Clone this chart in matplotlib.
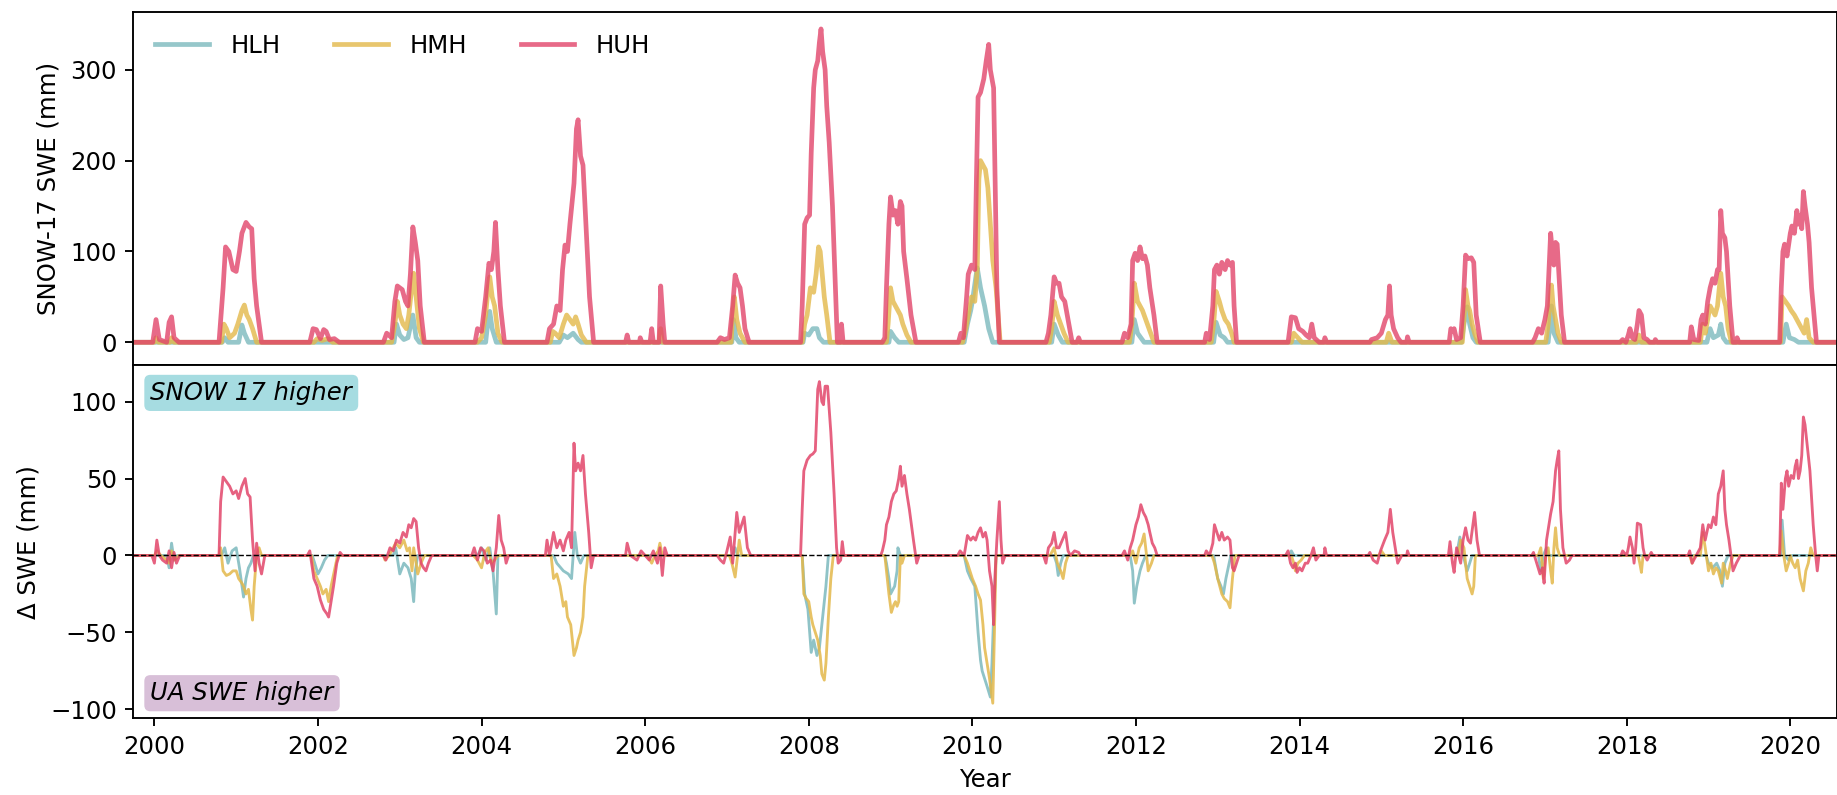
import numpy as np
import matplotlib
matplotlib.use("Agg")
import matplotlib.pyplot as plt

# SNOW-17 SWE (mm), (decimal year, value)
huh_top = [
    (1999.75, 0), (1999.98, 0), (2000.02, 25), (2000.06, 3), (2000.15, 0), (2000.18, 22), (2000.21, 28),
    (2000.24, 5), (2000.30, 0), (2000.79, 0), (2000.84, 60), (2000.87, 105), (2000.91, 100), (2000.96, 80),
    (2001.00, 78), (2001.04, 100), (2001.07, 120), (2001.12, 132), (2001.16, 127), (2001.19, 125),
    (2001.22, 70), (2001.25, 40), (2001.31, 0), (2001.90, 0), (2001.94, 15), (2001.98, 14), (2002.03, 4),
    (2002.07, 14), (2002.10, 12), (2002.14, 3), (2002.20, 4), (2002.26, 0), (2002.80, 0), (2002.84, 10),
    (2002.90, 5), (2002.94, 45), (2002.97, 62), (2003.03, 58), (2003.07, 45), (2003.10, 40), (2003.13, 75),
    (2003.16, 127), (2003.19, 110), (2003.22, 90), (2003.25, 40), (2003.30, 0), (2003.92, 0), (2003.95, 15),
    (2004.00, 12), (2004.05, 50), (2004.09, 87), (2004.12, 80), (2004.15, 100), (2004.17, 132), (2004.20, 80),
    (2004.23, 40), (2004.28, 0), (2004.80, 0), (2004.83, 15), (2004.88, 20), (2004.92, 40), (2004.96, 35),
    (2004.99, 80), (2005.02, 107), (2005.05, 100), (2005.08, 130), (2005.13, 175), (2005.16, 235),
    (2005.18, 245), (2005.21, 205), (2005.24, 195), (2005.27, 140), (2005.32, 50), (2005.37, 0),
    (2005.76, 0), (2005.78, 8), (2005.80, 0), (2005.93, 0), (2005.94, 5), (2005.96, 0), (2006.06, 0),
    (2006.08, 15), (2006.10, 0), (2006.17, 0), (2006.19, 62), (2006.22, 20), (2006.24, 0), (2006.88, 0),
    (2006.92, 5), (2006.97, 3), (2007.03, 5), (2007.07, 40), (2007.10, 74), (2007.13, 65), (2007.16, 60),
    (2007.19, 40), (2007.22, 15), (2007.27, 0), (2007.90, 0), (2007.92, 40), (2007.95, 130), (2007.98, 137),
    (2008.01, 140), (2008.03, 208), (2008.06, 280), (2008.08, 300), (2008.11, 310), (2008.13, 330),
    (2008.15, 345), (2008.17, 320), (2008.20, 300), (2008.22, 260), (2008.25, 220), (2008.29, 150),
    (2008.33, 50), (2008.35, 0), (2008.39, 0), (2008.40, 20), (2008.42, 0), (2008.90, 0), (2008.93, 5),
    (2008.95, 60), (2008.98, 130), (2009.00, 160), (2009.03, 140), (2009.06, 145), (2009.09, 130),
    (2009.12, 155), (2009.14, 150), (2009.16, 100), (2009.20, 70), (2009.25, 30), (2009.31, 0),
    (2009.83, 0), (2009.86, 10), (2009.89, 5), (2009.93, 50), (2009.95, 75), (2009.99, 85), (2010.03, 80),
    (2010.05, 180), (2010.07, 270), (2010.10, 275), (2010.14, 290), (2010.17, 310), (2010.20, 328),
    (2010.22, 300), (2010.24, 290), (2010.26, 280), (2010.28, 170), (2010.30, 60), (2010.33, 0),
    (2010.90, 0), (2010.93, 10), (2010.96, 30), (2011.00, 72), (2011.03, 65), (2011.06, 65), (2011.09, 50),
    (2011.13, 45), (2011.16, 30), (2011.22, 0), (2011.28, 0), (2011.30, 5), (2011.32, 0), (2011.83, 0),
    (2011.86, 10), (2011.90, 5), (2011.94, 20), (2011.96, 90), (2011.99, 98), (2012.02, 90), (2012.05, 105),
    (2012.08, 92), (2012.11, 95), (2012.14, 85), (2012.17, 60), (2012.22, 30), (2012.26, 0), (2012.84, 0),
    (2012.86, 10), (2012.90, 3), (2012.94, 40), (2012.96, 80), (2012.99, 85), (2013.02, 75), (2013.05, 88),
    (2013.09, 80), (2013.12, 90), (2013.15, 85), (2013.18, 88), (2013.20, 40), (2013.23, 0), (2013.86, 0),
    (2013.90, 28), (2013.95, 27), (2013.99, 15), (2014.04, 12), (2014.08, 8), (2014.12, 5), (2014.15, 20),
    (2014.18, 5), (2014.24, 0), (2014.30, 0), (2014.31, 5), (2014.33, 0), (2014.86, 0), (2014.88, 3),
    (2014.95, 5), (2015.00, 10), (2015.05, 25), (2015.08, 30), (2015.10, 62), (2015.12, 30), (2015.15, 15),
    (2015.20, 5), (2015.24, 0), (2015.31, 0), (2015.32, 6), (2015.34, 0), (2015.83, 0), (2015.85, 15),
    (2015.87, 12), (2015.89, 15), (2015.92, 3), (2015.97, 5), (2016.00, 40), (2016.03, 96), (2016.06, 92),
    (2016.10, 93), (2016.13, 88), (2016.16, 30), (2016.21, 0), (2016.85, 0), (2016.88, 5), (2016.92, 15),
    (2016.96, 10), (2017.00, 25), (2017.03, 40), (2017.06, 100), (2017.07, 120), (2017.09, 100),
    (2017.11, 85), (2017.13, 110), (2017.15, 108), (2017.18, 60), (2017.20, 30), (2017.24, 0), (2017.92, 0),
    (2017.95, 3), (2017.99, 0), (2018.02, 8), (2018.04, 15), (2018.07, 5), (2018.10, 3), (2018.13, 20),
    (2018.15, 35), (2018.18, 30), (2018.21, 5), (2018.25, 3), (2018.28, 0), (2018.34, 0), (2018.35, 3),
    (2018.37, 0), (2018.77, 0), (2018.79, 17), (2018.82, 3), (2018.88, 2), (2018.91, 25), (2018.93, 30),
    (2018.96, 20), (2018.99, 45), (2019.02, 60), (2019.05, 70), (2019.08, 65), (2019.11, 80), (2019.13, 80),
    (2019.15, 145), (2019.17, 120), (2019.20, 115), (2019.22, 100), (2019.26, 40), (2019.30, 0),
    (2019.34, 0), (2019.35, 5), (2019.37, 0), (2019.87, 0), (2019.89, 60), (2019.91, 100), (2019.93, 108),
    (2019.96, 95), (2020.00, 120), (2020.02, 128), (2020.05, 120), (2020.08, 145), (2020.10, 130),
    (2020.12, 140), (2020.14, 125), (2020.16, 166), (2020.18, 150), (2020.21, 130), (2020.23, 110),
    (2020.26, 60), (2020.32, 0), (2020.75, 0),
]

hmh_top = [
    (1999.75, 0), (2000.00, 0), (2000.02, 5), (2000.05, 0), (2000.19, 0), (2000.21, 5), (2000.24, 0),
    (2000.82, 0), (2000.85, 20), (2000.88, 15), (2000.92, 5), (2000.98, 10), (2001.02, 20), (2001.07, 35),
    (2001.10, 41), (2001.13, 30), (2001.16, 25), (2001.20, 15), (2001.25, 0), (2001.95, 0), (2001.99, 4),
    (2002.05, 2), (2002.12, 4), (2002.18, 0), (2002.90, 0), (2002.94, 20), (2002.97, 45), (2003.00, 30),
    (2003.04, 20), (2003.08, 15), (2003.11, 30), (2003.14, 55), (2003.17, 76), (2003.20, 50), (2003.24, 15),
    (2003.29, 0), (2003.95, 0), (2004.00, 5), (2004.05, 30), (2004.08, 60), (2004.10, 72), (2004.13, 50),
    (2004.16, 40), (2004.20, 10), (2004.25, 0), (2004.84, 0), (2004.87, 12), (2004.90, 10), (2004.95, 5),
    (2005.00, 20), (2005.04, 30), (2005.08, 25), (2005.12, 20), (2005.15, 28), (2005.18, 20), (2005.22, 8),
    (2005.28, 0), (2006.17, 0), (2006.19, 15), (2006.21, 0), (2007.05, 0), (2007.07, 30), (2007.09, 50),
    (2007.12, 25), (2007.16, 10), (2007.22, 0), (2007.92, 0), (2007.95, 20), (2007.98, 30), (2008.02, 60),
    (2008.06, 55), (2008.09, 75), (2008.12, 105), (2008.14, 100), (2008.16, 80), (2008.19, 50),
    (2008.22, 30), (2008.26, 0), (2008.95, 0), (2008.97, 20), (2009.00, 60), (2009.03, 45), (2009.06, 40),
    (2009.09, 35), (2009.12, 30), (2009.15, 20), (2009.20, 8), (2009.25, 0), (2009.88, 0), (2009.92, 15),
    (2009.95, 30), (2009.99, 50), (2010.03, 45), (2010.06, 80), (2010.08, 180), (2010.10, 200),
    (2010.13, 195), (2010.16, 190), (2010.19, 170), (2010.22, 130), (2010.25, 90), (2010.29, 60),
    (2010.34, 0), (2010.94, 0), (2010.97, 15), (2011.00, 45), (2011.04, 30), (2011.08, 20), (2011.12, 10),
    (2011.17, 0), (2011.92, 0), (2011.95, 20), (2011.98, 65), (2012.02, 45), (2012.05, 40), (2012.08, 35),
    (2012.12, 25), (2012.18, 10), (2012.22, 0), (2012.92, 0), (2012.95, 20), (2012.98, 56), (2013.02, 45),
    (2013.05, 35), (2013.09, 25), (2013.13, 20), (2013.17, 10), (2013.20, 0), (2013.90, 0), (2013.93, 10),
    (2013.98, 5), (2014.03, 0), (2015.06, 0), (2015.09, 10), (2015.13, 0), (2015.99, 0), (2016.01, 25),
    (2016.03, 58), (2016.06, 40), (2016.08, 35), (2016.11, 20), (2016.14, 10), (2016.18, 0), (2017.01, 0),
    (2017.04, 20), (2017.08, 63), (2017.10, 40), (2017.12, 30), (2017.16, 10), (2017.20, 0), (2018.12, 0),
    (2018.15, 8), (2018.18, 0), (2018.90, 0), (2018.93, 20), (2018.96, 10), (2019.00, 30), (2019.02, 40),
    (2019.05, 35), (2019.08, 30), (2019.11, 40), (2019.15, 76), (2019.18, 50), (2019.21, 40), (2019.24, 15),
    (2019.28, 0), (2019.88, 0), (2019.90, 50), (2019.94, 45), (2019.98, 40), (2020.01, 35), (2020.05, 30),
    (2020.08, 25), (2020.11, 20), (2020.14, 15), (2020.17, 10), (2020.20, 25), (2020.23, 5), (2020.28, 0),
    (2020.75, 0),
]

hlh_top = [
    (1999.75, 0), (2000.83, 0), (2000.86, 5), (2000.90, 0), (2001.03, 0), (2001.07, 19), (2001.10, 10),
    (2001.15, 0), (2002.93, 0), (2002.96, 20), (2003.00, 8), (2003.05, 3), (2003.10, 5), (2003.16, 30),
    (2003.20, 5), (2003.24, 0), (2004.05, 0), (2004.08, 25), (2004.10, 34), (2004.13, 15), (2004.18, 0),
    (2004.95, 0), (2005.00, 8), (2005.05, 5), (2005.12, 10), (2005.18, 3), (2005.22, 0), (2007.06, 0),
    (2007.08, 25), (2007.11, 5), (2007.15, 0), (2007.93, 0), (2007.95, 10), (2008.00, 8), (2008.05, 15),
    (2008.10, 15), (2008.13, 5), (2008.18, 0), (2008.98, 0), (2009.00, 12), (2009.05, 5), (2009.10, 0),
    (2009.90, 0), (2009.94, 20), (2009.98, 35), (2010.00, 45), (2010.04, 70), (2010.06, 82), (2010.10, 60),
    (2010.15, 40), (2010.20, 15), (2010.25, 0), (2010.97, 0), (2011.00, 20), (2011.05, 8), (2011.10, 0),
    (2011.95, 0), (2011.98, 25), (2012.02, 10), (2012.06, 5), (2012.10, 0), (2012.95, 0), (2012.98, 22),
    (2013.03, 8), (2013.08, 5), (2013.12, 0), (2015.98, 0), (2016.01, 20), (2016.05, 39), (2016.08, 20),
    (2016.12, 5), (2016.16, 0), (2017.04, 0), (2017.08, 40), (2017.11, 10), (2017.16, 0), (2018.98, 0),
    (2019.02, 15), (2019.06, 5), (2019.12, 8), (2019.15, 20), (2019.18, 5), (2019.22, 0), (2019.91, 0),
    (2019.95, 20), (2019.99, 5), (2020.05, 3), (2020.10, 0), (2020.75, 0),
]

# delta SWE (mm) = SNOW-17 minus UA SWE
huh_diff = [
    (1999.75, 0), (1999.97, 0), (2000.00, -5), (2000.03, 10), (2000.06, 0), (2000.10, -3), (2000.15, -5),
    (2000.18, 3), (2000.21, -8), (2000.24, 2), (2000.27, -5), (2000.31, 0), (2000.79, 0), (2000.81, 35),
    (2000.84, 51), (2000.88, 48), (2000.92, 45), (2000.96, 40), (2001.00, 42), (2001.03, 37), (2001.07, 45),
    (2001.11, 50), (2001.14, 40), (2001.17, 38), (2001.20, 10), (2001.23, -10), (2001.25, 8), (2001.28, -5),
    (2001.31, -12), (2001.35, 0), (2001.87, 0), (2001.90, 3), (2001.95, -15), (2001.99, -20),
    (2002.03, -29), (2002.07, -35), (2002.11, -38), (2002.13, -40), (2002.16, -30), (2002.19, -20),
    (2002.23, -5), (2002.27, 2), (2002.30, 0), (2002.80, 0), (2002.83, -3), (2002.88, 5), (2002.92, 3),
    (2002.96, 10), (2003.00, 8), (2003.04, 15), (2003.08, 12), (2003.11, 20), (2003.14, 18), (2003.17, 24),
    (2003.20, 22), (2003.23, 5), (2003.26, -5), (2003.29, -8), (2003.32, -10), (2003.35, -5), (2003.39, 0),
    (2003.88, 0), (2003.91, 5), (2003.95, -3), (2003.99, 5), (2004.03, 3), (2004.07, -5), (2004.11, -3),
    (2004.14, -10), (2004.18, 5), (2004.21, 26), (2004.24, 10), (2004.27, 5), (2004.30, -5), (2004.33, 0),
    (2004.78, 0), (2004.80, 10), (2004.83, 0), (2004.88, 15), (2004.92, 5), (2004.96, 10), (2005.00, 3),
    (2005.03, 10), (2005.07, 15), (2005.10, 5), (2005.13, 73), (2005.15, 55), (2005.18, 60), (2005.21, 55),
    (2005.24, 65), (2005.27, 40), (2005.31, 15), (2005.34, -8), (2005.37, 0), (2005.76, 0), (2005.78, 8),
    (2005.82, 0), (2005.90, -3), (2005.95, 3), (2006.00, 0), (2006.05, -3), (2006.10, 3), (2006.15, -5),
    (2006.18, 5), (2006.21, -13), (2006.24, 5), (2006.27, 0), (2006.88, 0), (2006.92, -3), (2006.96, -5),
    (2007.00, 3), (2007.04, 12), (2007.07, -5), (2007.10, 15), (2007.12, 28), (2007.15, 15), (2007.18, 20),
    (2007.21, 25), (2007.25, 5), (2007.29, 0), (2007.90, 0), (2007.92, 30), (2007.94, 55), (2007.98, 62),
    (2008.02, 65), (2008.05, 66), (2008.08, 68), (2008.10, 95), (2008.11, 108), (2008.13, 113),
    (2008.16, 100), (2008.18, 98), (2008.20, 110), (2008.23, 110), (2008.25, 95), (2008.27, 80),
    (2008.31, 40), (2008.34, 5), (2008.36, -5), (2008.39, -3), (2008.41, 9), (2008.43, 0), (2008.88, 0),
    (2008.90, 3), (2008.93, 10), (2008.95, 20), (2008.98, 25), (2009.01, 35), (2009.04, 40), (2009.07, 42),
    (2009.10, 50), (2009.12, 58), (2009.14, 45), (2009.17, 52), (2009.20, 40), (2009.23, 30), (2009.28, 10),
    (2009.32, -5), (2009.35, 0), (2009.82, 0), (2009.85, 3), (2009.90, 0), (2009.94, 13), (2009.98, 10),
    (2010.01, 12), (2010.04, 10), (2010.07, 15), (2010.10, 18), (2010.13, 12), (2010.16, 15), (2010.18, 10),
    (2010.21, -10), (2010.24, -20), (2010.26, -45), (2010.28, -10), (2010.30, 10), (2010.33, 35),
    (2010.35, 10), (2010.37, -5), (2010.40, 0), (2010.87, 0), (2010.90, -5), (2010.93, 5), (2010.97, 8),
    (2011.00, 15), (2011.03, 5), (2011.06, 5), (2011.10, 10), (2011.14, 15), (2011.17, 3), (2011.20, 0),
    (2011.25, 3), (2011.30, 2), (2011.32, 0), (2011.83, 0), (2011.86, 3), (2011.90, -3), (2011.93, 5),
    (2011.96, 10), (2012.00, 20), (2012.03, 25), (2012.06, 33), (2012.09, 28), (2012.12, 25), (2012.15, 20),
    (2012.17, 15), (2012.20, 8), (2012.23, 5), (2012.26, 0), (2012.84, 0), (2012.86, 3), (2012.90, 0),
    (2012.94, 8), (2012.96, 20), (2012.99, 15), (2013.02, 10), (2013.05, 15), (2013.08, 10), (2013.12, 12),
    (2013.15, 10), (2013.18, -8), (2013.20, -10), (2013.23, -5), (2013.26, 0), (2013.83, 0), (2013.86, 3),
    (2013.89, -5), (2013.92, -8), (2013.95, -5), (2013.97, -11), (2014.00, -8), (2014.03, -10),
    (2014.07, -5), (2014.10, -5), (2014.14, 0), (2014.17, 5), (2014.20, -3), (2014.24, 0), (2014.30, 0),
    (2014.31, 5), (2014.33, 0), (2014.84, 0), (2014.86, 2), (2014.90, -3), (2014.95, -5), (2014.99, 3),
    (2015.04, 10), (2015.08, 15), (2015.11, 30), (2015.14, 15), (2015.17, 5), (2015.20, -5), (2015.25, 0),
    (2015.31, 0), (2015.32, 3), (2015.34, 0), (2015.82, 0), (2015.84, 9), (2015.87, -5), (2015.89, -11),
    (2015.92, 5), (2015.97, -5), (2016.00, 10), (2016.03, 18), (2016.06, 10), (2016.09, 8), (2016.12, 20),
    (2016.14, 28), (2016.17, 10), (2016.20, 0), (2016.84, 0), (2016.86, 2), (2016.90, -5), (2016.94, -12),
    (2016.97, -8), (2016.99, -18), (2017.02, 10), (2017.05, 20), (2017.07, 27), (2017.10, 35), (2017.13, 55),
    (2017.15, 62), (2017.17, 68), (2017.19, 30), (2017.22, 5), (2017.24, 0), (2017.26, -5), (2017.30, -3),
    (2017.33, 0), (2017.93, 0), (2017.95, 3), (2018.00, 0), (2018.02, 5), (2018.04, 12), (2018.07, 5),
    (2018.09, -5), (2018.11, 5), (2018.13, 21), (2018.17, 20), (2018.20, 5), (2018.22, 0), (2018.25, -3),
    (2018.30, 2), (2018.32, 0), (2018.75, 0), (2018.77, 3), (2018.80, -5), (2018.85, 0), (2018.90, 5),
    (2018.93, 20), (2018.96, 10), (2019.00, 20), (2019.03, 18), (2019.06, 25), (2019.09, 20), (2019.12, 40),
    (2019.15, 45), (2019.18, 55), (2019.20, 30), (2019.22, 20), (2019.25, 10), (2019.30, -10),
    (2019.34, -5), (2019.39, 0), (2019.87, 0), (2019.89, 47), (2019.91, 30), (2019.94, 50), (2019.96, 55),
    (2019.98, 45), (2020.01, 52), (2020.04, 50), (2020.06, 58), (2020.08, 62), (2020.10, 50), (2020.12, 55),
    (2020.14, 65), (2020.16, 90), (2020.18, 85), (2020.21, 70), (2020.24, 55), (2020.28, 20), (2020.31, 0),
    (2020.33, -10), (2020.35, 0), (2020.75, 0),
]

hmh_diff = [
    (1999.75, 0), (2000.00, 0), (2000.03, 3), (2000.08, 0), (2000.15, -3), (2000.18, -5), (2000.21, 3),
    (2000.25, -3), (2000.30, 0), (2000.79, 0), (2000.81, 5), (2000.84, -10), (2000.88, -13), (2000.92, -12),
    (2000.96, -10), (2001.00, -10), (2001.03, -15), (2001.07, -18), (2001.09, -20), (2001.12, -25),
    (2001.15, -22), (2001.18, -35), (2001.20, -42), (2001.22, -20), (2001.25, 0), (2001.28, 5), (2001.31, 0),
    (2001.92, 0), (2001.95, -10), (2001.99, -15), (2002.03, -20), (2002.06, -25), (2002.10, -22),
    (2002.13, -30), (2002.16, -20), (2002.20, -10), (2002.24, 0), (2002.80, 0), (2002.82, -3), (2002.87, 0),
    (2002.92, 5), (2002.95, 8), (2003.00, 5), (2003.05, 10), (2003.09, 3), (2003.12, 5), (2003.15, -10),
    (2003.17, 5), (2003.20, -5), (2003.22, -12), (2003.26, -5), (2003.30, 0), (2003.90, 0), (2003.95, -3),
    (2004.00, -8), (2004.04, 2), (2004.08, 5), (2004.12, -5), (2004.16, -3), (2004.20, 0), (2004.85, 0),
    (2004.88, -15), (2004.92, -12), (2004.96, -20), (2005.00, -33), (2005.03, -30), (2005.05, -40),
    (2005.09, -45), (2005.12, -60), (2005.13, -65), (2005.16, -60), (2005.18, -55), (2005.21, -50),
    (2005.24, -40), (2005.26, -20), (2005.30, 0), (2006.03, 0), (2006.08, -5), (2006.12, 0), (2006.16, 3),
    (2006.18, 8), (2006.21, 0), (2007.03, 0), (2007.06, -5), (2007.10, -14), (2007.13, 0), (2007.15, 10),
    (2007.18, 0), (2007.92, 0), (2007.94, -25), (2007.97, -28), (2008.00, -30), (2008.03, -40),
    (2008.05, -45), (2008.08, -50), (2008.11, -55), (2008.14, -65), (2008.16, -77), (2008.19, -81),
    (2008.21, -70), (2008.24, -40), (2008.27, -15), (2008.30, 0), (2008.93, 0), (2008.95, -10),
    (2008.98, -25), (2009.01, -37), (2009.04, -32), (2009.06, -30), (2009.08, -33), (2009.10, -30),
    (2009.12, 0), (2009.14, -5), (2009.17, 0), (2009.90, 0), (2009.94, -5), (2009.97, -10), (2010.00, -15),
    (2010.04, -20), (2010.07, -25), (2010.10, -29), (2010.13, -45), (2010.15, -60), (2010.18, -70),
    (2010.21, -80), (2010.23, -88), (2010.25, -96), (2010.27, -50), (2010.29, 0), (2010.95, 0),
    (2010.98, 3), (2011.00, 5), (2011.04, -5), (2011.08, -10), (2011.11, -15), (2011.14, -5), (2011.17, 0),
    (2011.93, 0), (2011.96, 3), (2012.00, -5), (2012.04, 5), (2012.07, 8), (2012.10, 14), (2012.13, 0),
    (2012.15, -10), (2012.19, -5), (2012.22, 0), (2012.93, 0), (2012.96, -5), (2013.00, -15), (2013.05, -25),
    (2013.08, -28), (2013.12, -30), (2013.15, -34), (2013.18, -15), (2013.21, 0), (2013.90, 0),
    (2013.93, -5), (2013.95, -10), (2013.98, -5), (2014.02, -3), (2014.06, 0), (2014.97, 0), (2015.00, 3),
    (2015.04, 0), (2015.94, 0), (2015.97, 10), (2016.01, 5), (2016.05, -15), (2016.08, -20), (2016.11, -25),
    (2016.13, -20), (2016.15, 0), (2016.92, 0), (2016.95, 5), (2016.98, -15), (2017.01, 0), (2017.04, 5),
    (2017.07, -10), (2017.09, -18), (2017.11, 5), (2017.13, 18), (2017.15, 5), (2017.18, 0), (2018.14, 0),
    (2018.16, -5), (2018.18, -11), (2018.20, 0), (2018.77, 0), (2018.80, -5), (2018.83, 0), (2018.90, 0),
    (2018.93, 15), (2018.96, 5), (2019.00, -10), (2019.03, -5), (2019.06, -12), (2019.09, -8),
    (2019.12, -10), (2019.16, -18), (2019.18, -5), (2019.21, -10), (2019.23, -15), (2019.27, -5),
    (2019.30, 0), (2019.87, 0), (2019.89, 16), (2019.92, 0), (2019.95, -10), (2019.98, -5), (2020.00, 0),
    (2020.03, -5), (2020.06, -8), (2020.09, -3), (2020.12, -15), (2020.16, -23), (2020.19, -10),
    (2020.22, -5), (2020.25, 5), (2020.28, 0), (2020.75, 0),
]

hlh_diff = [
    (1999.75, 0), (2000.15, 0), (2000.18, -8), (2000.21, 8), (2000.24, -3), (2000.28, 0), (2000.82, 0),
    (2000.86, 5), (2000.90, -5), (2000.95, 3), (2001.00, 5), (2001.04, -8), (2001.09, -27), (2001.12, -15),
    (2001.15, -8), (2001.18, -5), (2001.21, 0), (2001.93, 0), (2001.96, -5), (2002.00, -12), (2002.04, -8),
    (2002.08, -3), (2002.12, 0), (2002.92, 0), (2002.95, 5), (2003.00, -12), (2003.05, -5), (2003.10, -8),
    (2003.14, -15), (2003.17, -30), (2003.19, -10), (2003.22, 0), (2003.95, 0), (2004.00, 5), (2004.05, -3),
    (2004.10, 5), (2004.14, -10), (2004.18, -38), (2004.20, 0), (2004.88, 0), (2004.92, -5), (2005.00, -10),
    (2005.06, -12), (2005.10, -15), (2005.14, 15), (2005.17, 0), (2005.21, -5), (2005.25, 0), (2007.07, 0),
    (2007.10, 5), (2007.13, 0), (2007.92, 0), (2007.95, -25), (2007.99, -35), (2008.03, -63), (2008.06, -55),
    (2008.10, -65), (2008.13, -60), (2008.15, -50), (2008.18, -35), (2008.21, -20), (2008.24, 0),
    (2008.93, 0), (2008.95, -5), (2008.98, -15), (2009.00, -25), (2009.03, -22), (2009.05, -20),
    (2009.08, -10), (2009.09, 5), (2009.12, 0), (2009.90, 0), (2009.94, -10), (2009.98, -15), (2010.03, -20),
    (2010.05, -35), (2010.07, -50), (2010.10, -68), (2010.12, -75), (2010.15, -80), (2010.18, -85),
    (2010.22, -92), (2010.24, -70), (2010.26, -40), (2010.29, 0), (2011.00, 0), (2011.03, -5),
    (2011.05, -13), (2011.08, -5), (2011.11, 0), (2011.93, 0), (2011.96, -10), (2011.98, -31),
    (2012.01, -20), (2012.05, -10), (2012.08, -5), (2012.12, 0), (2012.95, 0), (2013.00, -15),
    (2013.04, -20), (2013.07, -25), (2013.10, -15), (2013.12, -10), (2013.16, 0), (2013.88, 0),
    (2013.90, 3), (2013.93, 0), (2015.92, 0), (2015.96, 12), (2016.00, 0), (2016.05, -10), (2016.08, -5),
    (2016.11, 0), (2016.92, 0), (2016.95, -10), (2016.98, 0), (2017.02, 5), (2017.05, 0), (2018.97, 0),
    (2019.00, -5), (2019.05, -8), (2019.10, -5), (2019.14, -10), (2019.17, -20), (2019.20, -5),
    (2019.24, 0), (2019.88, 0), (2019.90, 23), (2019.93, 0), (2019.98, -3), (2020.02, 0), (2020.75, 0),
]

names = ["HLH", "HMH", "HUH"]
colors = ["#7cb9bd", "#e3b84a", "#e2456a"]
top_series = [hlh_top, hmh_top, huh_top]
diff_series = [hlh_diff, hmh_diff, huh_diff]

fig = plt.figure(figsize=(1837 / 170, 795 / 170), dpi=170)
ax1 = fig.add_axes([0.0726, 0.5409, 0.9274, 0.4444])
ax2 = fig.add_axes([0.0726, 0.0965, 0.9274, 0.4444], sharex=ax1)

for name, c, s in zip(names, colors, top_series):
    t, v = np.array(s).T
    ax1.plot(t, v, color=c, lw=2.0, alpha=0.8, label=name)

for c, s in zip(colors, diff_series):
    t, v = np.array(s).T
    ax2.plot(t, v, color=c, lw=1.2, alpha=0.85)
ax2.axhline(0, color="k", ls="--", lw=0.6, zorder=5)

ax1.set_ylim(-25, 364)
ax1.set_yticks([0, 100, 200, 300])
ax1.set_ylabel("SNOW-17 SWE (mm)", fontsize=10.3)
ax1.tick_params(axis="x", bottom=False, labelbottom=False)
ax1.tick_params(axis="y", labelsize=10.3)
ax1.legend(loc="upper left", ncol=3, frameon=False, handlelength=2.2,
           columnspacing=2.2, handletextpad=0.9, fontsize=10.3)

ax2.set_ylim(-105.8, 123.8)
ax2.set_yticks([-100, -50, 0, 50, 100])
ax2.set_ylabel("Δ SWE (mm)", fontsize=10.3)
ax2.set_xlabel("Year", fontsize=10.3)
ax2.set_xlim(1999.743, 2020.571)
ax2.set_xticks(np.arange(2000, 2021, 2))
ax2.set_xticklabels([str(y) for y in range(2000, 2021, 2)])
ax2.tick_params(labelsize=10.3)

ax2.text(0.01, 0.921, "SNOW 17 higher", style="italic", fontsize=10.3, transform=ax2.transAxes,
         va="center", bbox=dict(boxstyle="round,pad=0.25", fc="#a6dce1", ec="none"))
ax2.text(0.01, 0.071, "UA SWE higher", style="italic", fontsize=10.3, transform=ax2.transAxes,
         va="center", bbox=dict(boxstyle="round,pad=0.25", fc="#d8bfd8", ec="none"))

fig.savefig("out.png", dpi=170)
